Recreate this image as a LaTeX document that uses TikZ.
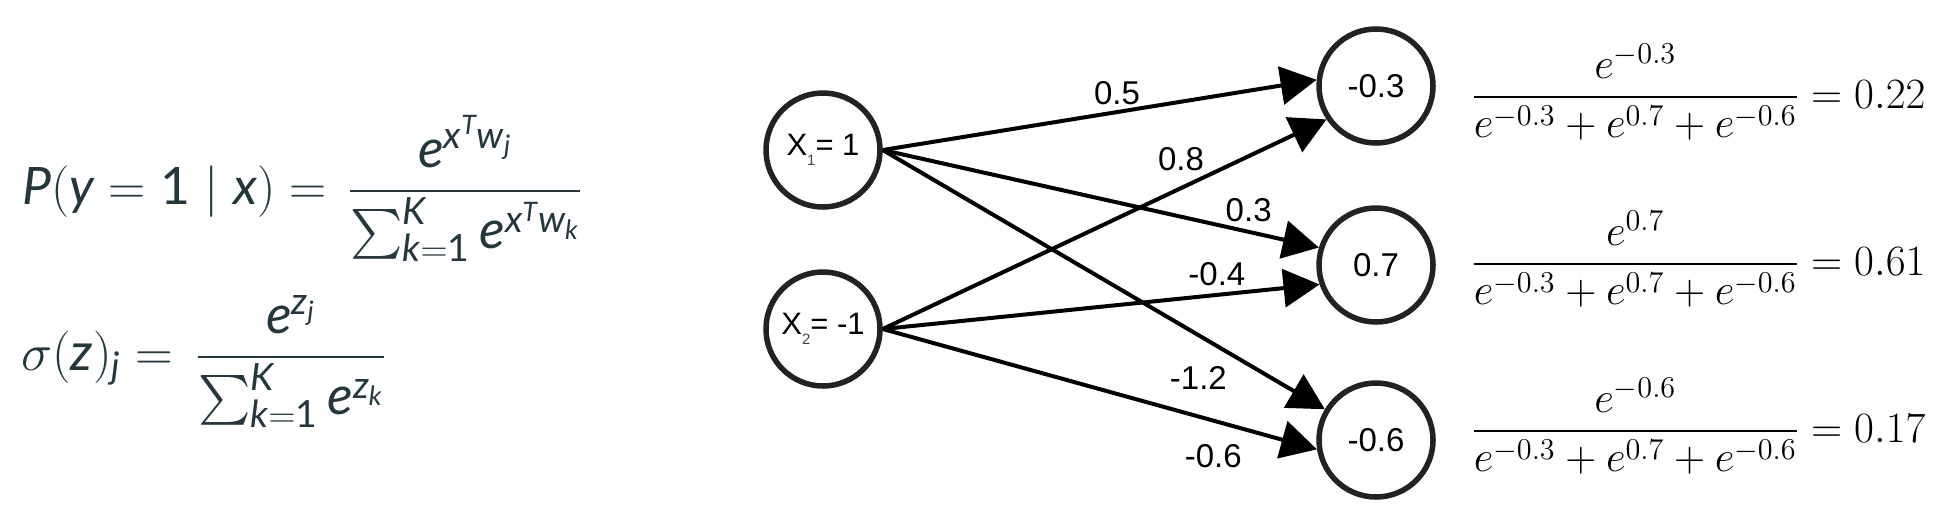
\RequirePackage{fix-cm}
\documentclass[tikz,border=0pt]{standalone}
\usepackage{amsmath}
\usepackage[no-math]{fontspec}
\newfontfamily\labfont{Liberation Sans}
\newfontfamily\eqfont{Lato}
\usetikzlibrary{arrows.meta}
\definecolor{formula}{RGB}{35,55,60}
\definecolor{ring}{RGB}{34,34,34}
\definecolor{subgray}{RGB}{60,70,80}
\newcommand\vi[1]{\text{\eqfont\itshape #1}}
\newcommand\vu[1]{\text{\eqfont #1}}
\begin{document}
\begin{tikzpicture}[x=0.5pt,y=-0.5pt,
  neuron/.style={circle, draw=ring, line width=2.75pt, minimum size=57pt, inner sep=0pt,
    font=\labfont\fontsize{16.5}{20}\selectfont},
  inneuron/.style={neuron, font=\labfont\fontsize{15.5}{19}\selectfont},
  edge/.style={draw=black, line width=2pt, -{Triangle[length=18pt,width=19pt]}},
  wlab/.style={font=\labfont\fontsize{16.5}{20}\selectfont, inner sep=0pt},
  eq/.style={anchor=base west, inner sep=0pt, text=formula},
  lhsA/.style={eq, font=\fontsize{25.8}{31}\selectfont},
  lhsB/.style={eq, font=\fontsize{26.2}{31}\selectfont},
  fracfont/.style={eq, font=\fontsize{26.8}{32}\selectfont},
  rightfont/.style={anchor=base west, inner sep=0pt, font=\fontsize{21.6}{26}\selectfont}]
\useasboundingbox (0,0) rectangle (1946,510);

% left formulas
\node[lhsA] (f1a) at (22,204)
  {$\vi{P}(\vi{y}=\vu{1}\mid \vi{x})=$};
\node[fracfont] (f1b) at (347.6,204)
  {$\dfrac{\vi{e}^{\vi{x}^{\vi{T}}\vi{w}_{\vi{j}}}}{\sum_{\vi{k}=\vu{1}}^{\vi{K}}\vi{e}^{\vi{x}^{\vi{T}}\vi{w}_{\vi{k}}}}$};
\node[lhsB] (f2a) at (21,370)
  {$\sigma(\vi{z})_{\vi{j}}=$};
\node[fracfont] (f2b) at (195.6,370)
  {$\dfrac{\vi{e}^{\vi{z}_{\vi{j}}}}{\sum_{\vi{k}=\vu{1}}^{\vi{K}}\vi{e}^{\vi{z}_{\vi{k}}}}$};

% neurons
\node[inneuron] (x1) at (823,150) {X\raisebox{-5pt}{\fontsize{7.5}{8}\selectfont\color{subgray}1}= 1};
\node[inneuron] (x2) at (823,329) {X\raisebox{-5pt}{\fontsize{7.5}{8}\selectfont\color{subgray}2}= -1};
\node[neuron] (o1) at (1376,86) {-0.3};
\node[neuron] (o2) at (1376,265) {0.7};
\node[neuron] (o3) at (1376,440) {-0.6};

% edges
\draw[edge] (x1.east) -- (o1.174) node[wlab, pos=0.54, yshift=9.5pt] {0.5};
\draw[edge] (x2.east) -- (o1.214) node[wlab, pos=0.672, yshift=14.6pt] {0.8};
\draw[edge] (x1.east) -- (o2.163) node[wlab, pos=0.839, yshift=10.7pt] {0.3};
\draw[edge] (x2.east) -- (o2.199) node[wlab, pos=0.765, yshift=10.2pt] {-0.4};
\draw[edge] (x1.east) -- (o3.149) node[wlab, pos=0.714, yshift=-21.5pt] {-1.2};
\draw[edge] (x2.east) -- (o3.189) node[wlab, pos=0.761, yshift=-17.7pt] {-0.6};

% softmax results
\node[rightfont] (r1) at (1471,108)
  {$\displaystyle\frac{e^{-0.3}}{e^{-0.3}+e^{0.7}+e^{-0.6}}=0.22$};
\node[rightfont] (r2) at (1471,275)
  {$\displaystyle\frac{e^{0.7}}{e^{-0.3}+e^{0.7}+e^{-0.6}}=0.61$};
\node[rightfont] (r3) at (1471,442)
  {$\displaystyle\frac{e^{-0.6}}{e^{-0.3}+e^{0.7}+e^{-0.6}}=0.17$};
\end{tikzpicture}
\end{document}
